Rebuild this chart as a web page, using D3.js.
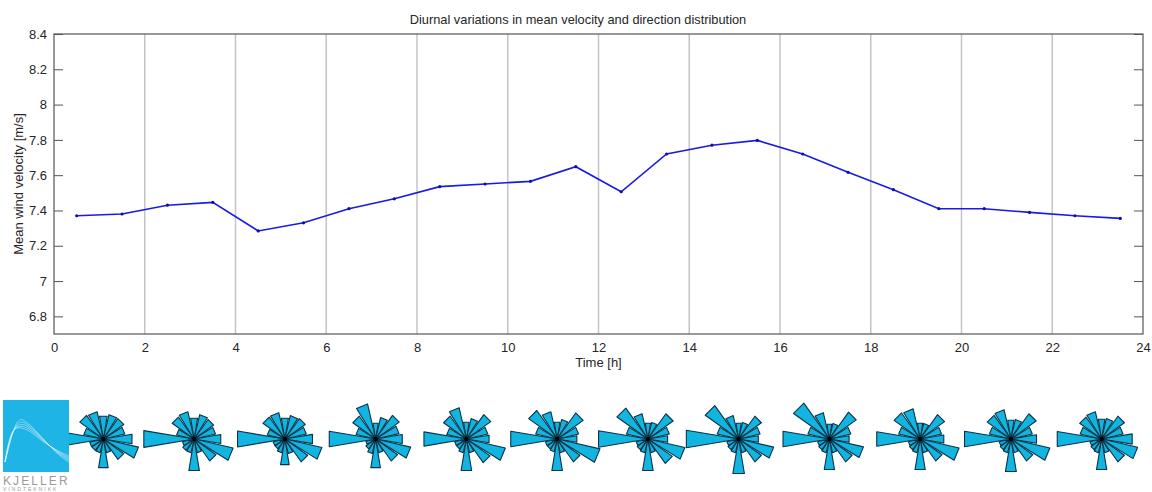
<!DOCTYPE html>
<html>
<head>
<meta charset="utf-8">
<script src="https://cdn.jsdelivr.net/npm/d3@7"></script>
<style>
  body { margin: 0; background: #fff; }
  svg { display: block; font-family: "Liberation Sans", Arial, sans-serif; }
</style>
</head>
<body>
<svg id="chart"></svg>
<script>
// hourly means (centre of each hour)
var hours = d3.range(0.5, 24, 1);
var velocity = [7.37, 7.38, 7.43, 7.446, 7.284, 7.33, 7.41, 7.466, 7.535, 7.55, 7.565, 7.648,
                7.506, 7.72, 7.77, 7.797, 7.72, 7.616, 7.518, 7.41, 7.41, 7.389, 7.37, 7.355];

var xTicks = [0, 2, 4, 6, 8, 10, 12, 14, 16, 18, 20, 22, 24];
var yTicks = [6.8, 7, 7.2, 7.4, 7.6, 7.8, 8, 8.2, 8.4];

// direction distribution per 2 h block (N, NNE, ... NNW), relative frequency
var roseHours = [1, 3, 5, 7, 9, 11, 13, 15, 17, 19, 21, 23];
var directions = ['N','NNE','NE','ENE','E','ESE','SE','SSE','S','SSW','SW','WSW','W','WNW','NW','NNW'];
var roseFreq = [
  [23, 25, 25, 22, 29, 36, 25, 14, 29, 14, 14, 14, 45, 20, 29, 28],
  [21, 25, 24, 22, 27, 40, 27, 14, 32, 14, 14, 12, 51, 18, 27, 28],
  [21, 24, 25, 22, 28, 38, 28, 15, 26, 14, 12, 12, 48, 18, 27, 27],
  [16, 22, 29, 24, 27, 36, 27, 14, 29, 15, 12, 10, 47, 20, 28, 36],
  [17, 21, 30, 22, 23, 40, 29, 14, 32, 14, 12, 12, 43, 20, 28, 32],
  [17, 20, 32, 22, 20, 44, 28, 14, 32, 13, 12, 12, 47, 22, 35, 28],
  [16, 17, 31, 22, 20, 38, 30, 14, 32, 14, 13, 12, 50, 22, 38, 26],
  [16, 17, 28, 22, 20, 36, 28, 14, 35, 14, 13, 12, 53, 22, 41, 24],
  [15, 16, 33, 22, 20, 35, 28, 14, 31, 14, 13, 12, 47, 22, 44, 27],
  [16, 16, 30, 22, 24, 40, 27, 14, 31, 14, 13, 12, 44, 22, 32, 31],
  [19, 20, 31, 22, 26, 40, 27, 14, 33, 14, 13, 12, 47, 22, 29, 30],
  [20, 21, 28, 22, 31, 37, 28, 14, 31, 14, 13, 12, 45, 22, 27, 28]
];

var full_width = 1152, full_height = 492;
var margin = {left: 54, right: 9, top: 34, bottom: 158};

var svg = d3.select("#chart")
    .attr("width", full_width)
    .attr("height", full_height);

var x = d3.scaleLinear().domain([0, 24]).range([margin.left, full_width - margin.right]);
var y = d3.scaleLinear().domain([6.7, 8.4]).range([full_height - margin.bottom, margin.top]);

var textCol = "#262626";

// vertical grid
svg.append("g")
  .selectAll("line")
  .data(xTicks.slice(1, -1))
  .enter().append("line")
    .attr("x1", function(d) { return x(d); })
    .attr("x2", function(d) { return x(d); })
    .attr("y1", y(8.4))
    .attr("y2", y(6.7))
    .attr("stroke", "#c4c4c4")
    .attr("stroke-width", 1.5);

// axes (ticks inside, matlab style)
var axisLeft = svg.append("g")
    .attr("transform", "translate(" + x(0) + ",0)")
    .call(d3.axisRight(y).tickValues(yTicks).tickSize(9).tickFormat(d3.format("~g")));
axisLeft.selectAll("text").attr("x", -7).attr("text-anchor", "end");

var axisRight = svg.append("g")
    .attr("transform", "translate(" + x(24) + ",0)")
    .call(d3.axisLeft(y).tickValues(yTicks).tickSize(9).tickFormat(""));

var axisBottom = svg.append("g")
    .attr("transform", "translate(0," + y(6.7) + ")")
    .call(d3.axisTop(x).tickValues(xTicks).tickSize(0).tickFormat(d3.format("d")));
axisBottom.selectAll("text").attr("y", 18).attr("dy", "0");

[axisLeft, axisRight, axisBottom].forEach(function(a) {
  a.select(".domain").remove();
  a.selectAll("line").attr("stroke", "#555");
  a.selectAll("text").attr("fill", textCol).style("font-size", "13px")
    .style("font-family", "Liberation Sans, Arial, sans-serif");
});

// box
svg.append("rect")
    .attr("x", x(0))
    .attr("y", y(8.4))
    .attr("width", x(24) - x(0))
    .attr("height", y(6.7) - y(8.4))
    .attr("fill", "none")
    .attr("stroke", "#555")
    .attr("stroke-width", 1.2);

// series
var line = d3.line()
    .x(function(d, i) { return x(hours[i]); })
    .y(function(d) { return y(d); });

svg.append("path")
    .datum(velocity)
    .attr("d", line)
    .attr("fill", "none")
    .attr("stroke", "#1a1ae6")
    .attr("stroke-width", 1.6);

svg.append("g")
  .selectAll("circle")
  .data(velocity)
  .enter().append("circle")
    .attr("cx", function(d, i) { return x(hours[i]); })
    .attr("cy", function(d) { return y(d); })
    .attr("r", 1.6)
    .attr("fill", "#10109a");

// titles
svg.append("text")
    .attr("x", 578)
    .attr("y", 24)
    .attr("text-anchor", "middle")
    .attr("fill", textCol)
    .style("font-size", "12.8px")
    .text("Diurnal variations in mean velocity and direction distribution");

svg.append("text")
    .attr("x", (x(0) + x(24)) / 2)
    .attr("y", 367)
    .attr("text-anchor", "middle")
    .attr("fill", textCol)
    .style("font-size", "13px")
    .text("Time [h]");

svg.append("text")
    .attr("transform", "translate(23," + ((y(6.7) + y(8.4)) / 2) + ") rotate(-90)")
    .attr("text-anchor", "middle")
    .attr("fill", textCol)
    .style("font-size", "13px")
    .text("Mean wind velocity [m/s]");

// wind roses
var r = d3.scaleLinear().domain([0, 50]).range([0, 50]);
var halfW = 9.5 * Math.PI / 180;
var roseY = 439;

function wedge(d, i) {
  var a = i * 22.5 * Math.PI / 180, len = r(d);
  var p = d3.path();
  p.moveTo(0, 0);
  p.lineTo(len * Math.sin(a - halfW), -len * Math.cos(a - halfW));
  p.lineTo(len * Math.sin(a + halfW), -len * Math.cos(a + halfW));
  p.closePath();
  return p.toString();
}

var roses = svg.append("g")
  .selectAll("g")
  .data(roseFreq)
  .enter().append("g")
    .attr("transform", function(d, i) { return "translate(" + (x(roseHours[i]) + 4) + "," + roseY + ")"; });

roses.selectAll("path")
  .data(function(d) { return d; })
  .enter().append("path")
    .attr("d", wedge)
    .attr("fill", "#12b5e0")
    .attr("stroke", "#0a3348")
    .attr("stroke-width", 1.1)
    .attr("stroke-linejoin", "round");

roses.append("circle")
    .attr("r", 2.2)
    .attr("fill", "#000");

// logo
var logo = svg.append("g").attr("transform", "translate(3,400)");
logo.append("rect")
    .attr("width", 66)
    .attr("height", 72)
    .attr("fill", "#1eb4e6");

// white curves of the logo
[0.7, 0.85, 1.0, 1.15, 1.3].forEach(function(s, k) {
  var p = d3.path();
  p.moveTo(2, 62);
  p.bezierCurveTo(8, 40 - k * 4, 12, 16 + k * 2, 20 + k * 2, 20 + k * 3);
  p.bezierCurveTo(32 + k * 2, 26 + k * 4, 48, 52 - k, 66, 62 - k * 1.5);
  logo.append("path")
      .attr("d", p.toString())
      .attr("fill", "none")
      .attr("stroke", "#fff")
      .attr("stroke-opacity", 0.6)
      .attr("stroke-width", 0.7);
});

logo.append("text")
    .attr("x", 0)
    .attr("y", 85)
    .attr("fill", "#9a9a9a")
    .style("font-size", "12px")
    .style("letter-spacing", "2.1px")
    .text("KJELLER");

logo.append("text")
    .attr("x", 0)
    .attr("y", 91)
    .attr("fill", "#9a9a9a")
    .style("font-size", "5px")
    .style("letter-spacing", "2px")
    .text("VINDTEKNIKK");
</script>
</body>
</html>
